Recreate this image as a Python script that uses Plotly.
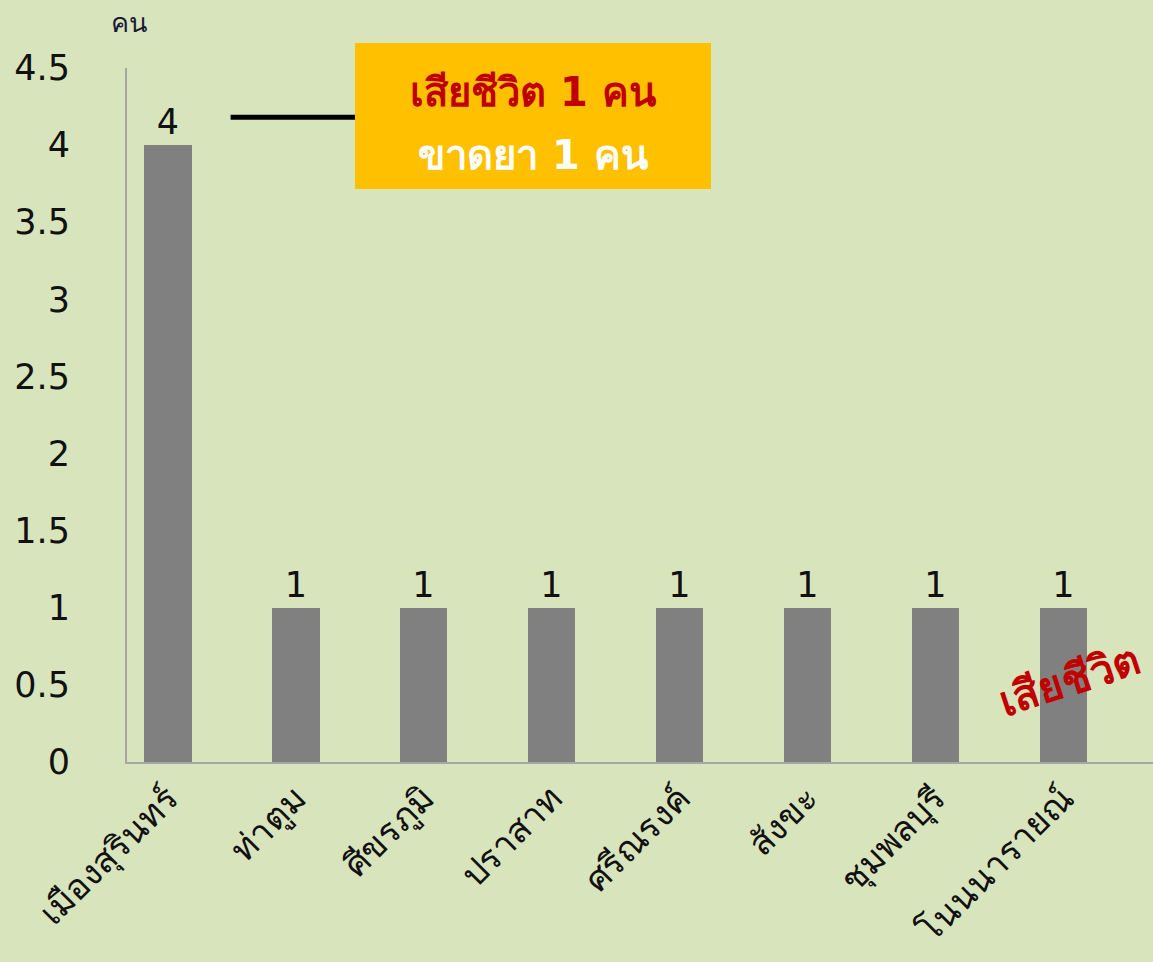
import plotly.graph_objects as go

categories = ["เมืองสุรินทร์", "ท่าตูม", "ศีขรภูมิ", "ปราสาท", "ศรีณรงค์", "สังขะ", "ชุมพลบุรี", "โนนนารายณ์"]
values = [4, 1, 1, 1, 1, 1, 1, 1]
y_ticks = [0, 0.5, 1, 1.5, 2, 2.5, 3, 3.5, 4, 4.5]
y_tick_labels = ["0", "0.5", "1", "1.5", "2", "2.5", "3", "3.5", "4", "4.5"]
unit_label = "คน"
box_line1 = "เสียชีวิต 1 คน"
box_line2 = "ขาดยา 1 คน"
death_label = "เสียชีวิต"

BG = "#D8E4BC"
NUMFONT = "'DejaVu Sans', sans-serif"
FONT = "'DejaVu Sans', 'Noto Sans', sans-serif"

fig = go.Figure()
fig.add_trace(go.Bar(
    x=list(range(len(categories))),
    y=values,
    marker=dict(color="#808080", line=dict(width=0)),
    width=0.37,
    text=[str(v) for v in values],
    textposition="outside",
    textfont=dict(size=35, color="#111111", family=NUMFONT),
    cliponaxis=False,
))

fig.update_layout(
    width=1153, height=962,
    paper_bgcolor=BG, plot_bgcolor=BG,
    margin=dict(l=127, r=0, t=68, b=200),
    showlegend=False,
    bargap=0,
    font=dict(family=FONT, color="#111111"),
    xaxis=dict(
        range=[-0.32, 7.7],
        tickmode="array",
        tickvals=list(range(len(categories))),
        ticktext=categories,
        tickangle=-45,
        tickfont=dict(size=35, color="#111111"),
        showline=True, linecolor="#A6A6A6", linewidth=2,
        showgrid=False, zeroline=False, ticks="",
    ),
    yaxis=dict(
        range=[0, 4.5],
        tickmode="array",
        tickvals=y_ticks,
        ticktext=y_tick_labels,
        tickfont=dict(size=35, color="#111111", family=NUMFONT),
        showline=True, linecolor="#A6A6A6", linewidth=2,
        showgrid=False, zeroline=False, ticks="",
        ticklabelstandoff=48,
    ),
)

fig.add_annotation(
    text=unit_label, xref="paper", yref="paper",
    x=0.0, y=1.0, yshift=46, xshift=2, xanchor="center", yanchor="middle",
    showarrow=False, font=dict(size=27, color="#1a1a3a"),
)

# connector line
fig.add_shape(
    type="line", xref="x", yref="y",
    x0=0.49, x1=1.48, y0=4.18, y1=4.18,
    line=dict(color="black", width=5),
)

# yellow box
fig.add_shape(
    type="rect", xref="paper", yref="paper",
    x0=0.2222, x1=0.5692, y0=0.8256, y1=1.036,
    fillcolor="#FFC000", line=dict(width=0), layer="above",
)
fig.add_annotation(
    text=f"<b>{box_line1}</b>", xref="paper", yref="paper",
    x=0.3957, y=0.9654, showarrow=False, xanchor="center", yanchor="middle",
    font=dict(size=40, color="#C00000"),
)
fig.add_annotation(
    text=f"<b>{box_line2}</b>", xref="paper", yref="paper",
    x=0.3957, y=0.8746, showarrow=False, xanchor="center", yanchor="middle",
    font=dict(size=40, color="#FFFFFF"),
)

fig.add_annotation(
    text=f"<b>{death_label}</b>",
    xref="x", yref="y", x=7.05, y=0.53,
    showarrow=False, textangle=-18,
    font=dict(size=42, color="#C00000"),
)

fig.write_html(
    "out.html",
    config={"displayModeBar": False},
    post_script="document.body.style.margin='0';document.body.style.background='#D8E4BC';",
)
